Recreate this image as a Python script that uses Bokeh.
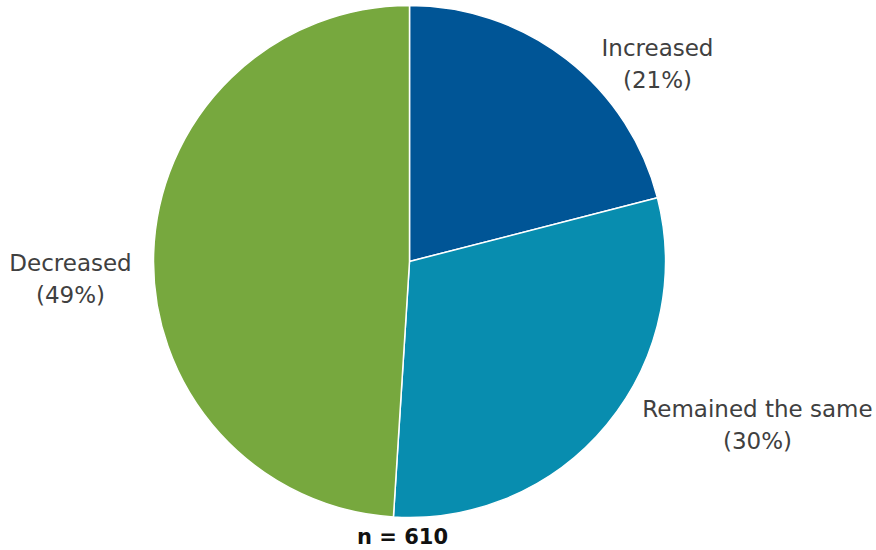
import numpy as np
from bokeh.plotting import figure
from bokeh.models import Range1d, ColumnDataSource
from bokeh.core.properties import value
from bokeh.embed import file_html
from bokeh.resources import INLINE

categories = ["Increased", "Remained the same", "Decreased"]
percents = [21, 30, 49]
colors = ["#005596", "#088DAF", "#77A83E"]
n_label = "n = 610"

W, H = 876, 550
p = figure(width=W, height=H, output_backend="svg", toolbar_location=None,
           x_range=Range1d(0, W), y_range=Range1d(0, H), min_border=0,
           background_fill_color="white", border_fill_color="white")
p.axis.visible = False
p.grid.visible = False
p.outline_line_color = None

cx, cy, r = 409, 550 - 261, 256
vals = np.array(percents, dtype=float)
fr = vals / vals.sum()
cum = np.concatenate([[0], np.cumsum(fr)])
start = np.pi / 2 - cum[:-1] * 2 * np.pi
end = np.pi / 2 - cum[1:] * 2 * np.pi
src = ColumnDataSource(dict(start=start, end=end, color=colors))
p.wedge(x=cx, y=cy, radius=r, start_angle="end", end_angle="start",
        fill_color="color", line_color="white", line_width=1.5, source=src)

label_pos = [(657, 47), (757, 408), (70, 262)]
lx, ly, lt = [], [], []
for (x, y), c, v in zip(label_pos, categories, percents):
    lx += [x, x]
    ly += [550 - y, 550 - (y + 32)]
    lt += [c, f"({v}%)"]
p.text(x=lx, y=ly, text=lt, text_align="center", text_baseline="middle",
       text_font=value("DejaVu Sans"), text_font_size="23px", text_color="#404040")
p.text(x=[402], y=[550 - 536], text=[n_label], text_align="center", text_baseline="middle",
       text_font=value("DejaVu Sans"), text_font_size="21px", text_font_style="bold",
       text_color="#111111")

open("out.html", "w").write(file_html(p, INLINE))
